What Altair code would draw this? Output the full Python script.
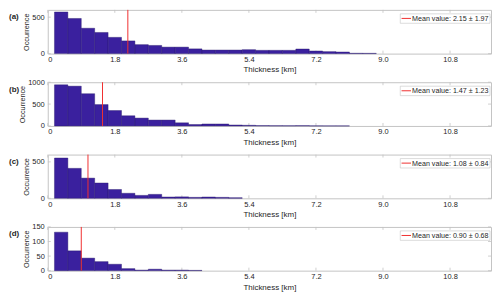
import altair as alt
import pandas as pd

# ---- data ----
BIN_START = 0.18
BIN_WIDTH = 0.36

COUNTS_A = [571, 482, 348, 290, 223, 174, 123, 112, 89, 89, 65, 49, 49, 49, 54, 45, 45, 45, 63, 36, 27, 22, 5, 4]
COUNTS_B = [940, 910, 737, 489, 353, 233, 180, 135, 135, 72, 33, 45, 45, 22, 15, 8, 6, 5, 7, 3, 2, 2]
COUNTS_C = [553, 411, 277, 210, 121, 69, 40, 54, 18, 20, 13, 18, 13, 8]
COUNTS_D = [132, 68, 43, 31, 22, 7, 2, 5, 2, 2, 1]
COUNTS = [COUNTS_A, COUNTS_B, COUNTS_C, COUNTS_D]

MEANS = [2.15, 1.47, 1.08, 0.90]
STDS = [1.97, 1.23, 0.84, 0.68]
PANEL_LABELS = ["(a)", "(b)", "(c)", "(d)"]
Y_MAX = [600, 1000, 600, 150]
Y_TICKS = [[0, 500], [0, 500, 1000], [0, 500], [0, 50, 100, 150]]
X_TICKS = [0, 1.8, 3.6, 5.4, 7.2, 9.0, 10.8]
X_MAX = 11.9

# ---- style ----
W, H = 446, 44
BAR = "#3a209e"
EDGE = "#261668"
RED = "#f03030"
BOX = "#c4c4c4"
TXT = "#262626"
FONT = "Liberation Sans"


def panel(i):
    counts = COUNTS[i]
    lo = [BIN_START + BIN_WIDTH * k for k in range(len(counts))]
    df = pd.DataFrame({"lo": lo, "count": counts})
    df["hi"] = df["lo"] + BIN_WIDTH
    df["base"] = 0

    xs = alt.Scale(domain=[0, X_MAX], nice=False, zero=False)
    ys = alt.Scale(domain=[0, Y_MAX[i]], nice=False)
    xaxis = alt.Axis(values=X_TICKS, title="Thickness [km]",
                     labelExpr="datum.value == 0 ? '0' : format(datum.value, '.1f')")
    yaxis = alt.Axis(values=Y_TICKS[i], title="Occurrence", format="d")

    info = pd.DataFrame({
        "m": [MEANS[i]],
        "label": [f"Mean value: {MEANS[i]:.2f} \u00b1 {STDS[i]:.2f}"],
        "p": [PANEL_LABELS[i]],
    })
    xt = pd.DataFrame({"v": X_TICKS})
    yt = pd.DataFrame({"v": Y_TICKS[i]})

    top_ticks = alt.Chart(xt).mark_rule(color=BOX, strokeWidth=0.8).encode(
        x=alt.X("v:Q", scale=xs, axis=xaxis), y=alt.value(0), y2=alt.value(3))
    bot_ticks = alt.Chart(xt).mark_rule(color=BOX, strokeWidth=0.8).encode(
        x=alt.X("v:Q", scale=xs, axis=xaxis), y=alt.value(H - 3), y2=alt.value(H))
    left_ticks = alt.Chart(yt).mark_rule(color=BOX, strokeWidth=0.8).encode(
        y=alt.Y("v:Q", scale=ys, axis=yaxis), x=alt.value(0), x2=alt.value(3))
    right_ticks = alt.Chart(yt).mark_rule(color=BOX, strokeWidth=0.8).encode(
        y=alt.Y("v:Q", scale=ys, axis=yaxis), x=alt.value(W - 3), x2=alt.value(W))

    bars = alt.Chart(df).mark_rect(color=BAR, stroke=EDGE, strokeWidth=0.4).encode(
        x=alt.X("lo:Q", scale=xs, axis=xaxis),
        x2="hi:Q",
        y=alt.Y("count:Q", scale=ys, axis=yaxis),
        y2="base:Q",
    )
    mean = alt.Chart(info).mark_rule(color=RED, strokeWidth=1).encode(
        x=alt.X("m:Q", scale=xs, axis=xaxis))

    leg_box = alt.Chart(info).mark_rect(fill="white", stroke=BOX, strokeWidth=0.6).encode(
        x=alt.value(354.7), x2=alt.value(445), y=alt.value(4), y2=alt.value(13.5))
    leg_line = alt.Chart(info).mark_rule(color=RED, strokeWidth=1).encode(
        x=alt.value(356), x2=alt.value(365.5), y=alt.value(8.6))
    leg_text = alt.Chart(info).mark_text(align="left", baseline="middle", fontSize=7.2,
                                         font=FONT, color=TXT).encode(
        x=alt.value(366.5), y=alt.value(9), text="label:N")
    plabel = alt.Chart(info).mark_text(align="left", baseline="middle", fontSize=8,
                                       fontWeight="bold", font=FONT, color=TXT).encode(
        x=alt.value(-39), y=alt.value(7.5), text="p:N")

    return alt.layer(top_ticks, bot_ticks, left_ticks, right_ticks, bars, mean,
                     leg_box, leg_line, leg_text, plabel).properties(width=W, height=H)


chart = alt.vconcat(*[panel(i) for i in range(4)], spacing=28.8, bounds="flush").resolve_scale(
    x="independent", y="independent"
).properties(
    padding={"left": 0, "top": 0, "right": 0, "bottom": 0},
    background="white",
).configure_view(
    stroke=BOX, strokeWidth=1
).configure_axis(
    labelFont=FONT, titleFont=FONT, labelFontSize=7.5, titleFontSize=8,
    labelColor=TXT, titleColor=TXT, titleFontWeight="normal",
    ticks=False, domain=False, grid=False, labelPadding=3.5, titlePadding=2
).configure_axisX(
    labelPadding=2, titlePadding=3
).configure_axisY(
    titleFontSize=7.3, titlePadding=1.2
)

chart.save("out.html", embed_options={"renderer": "svg", "actions": False})
